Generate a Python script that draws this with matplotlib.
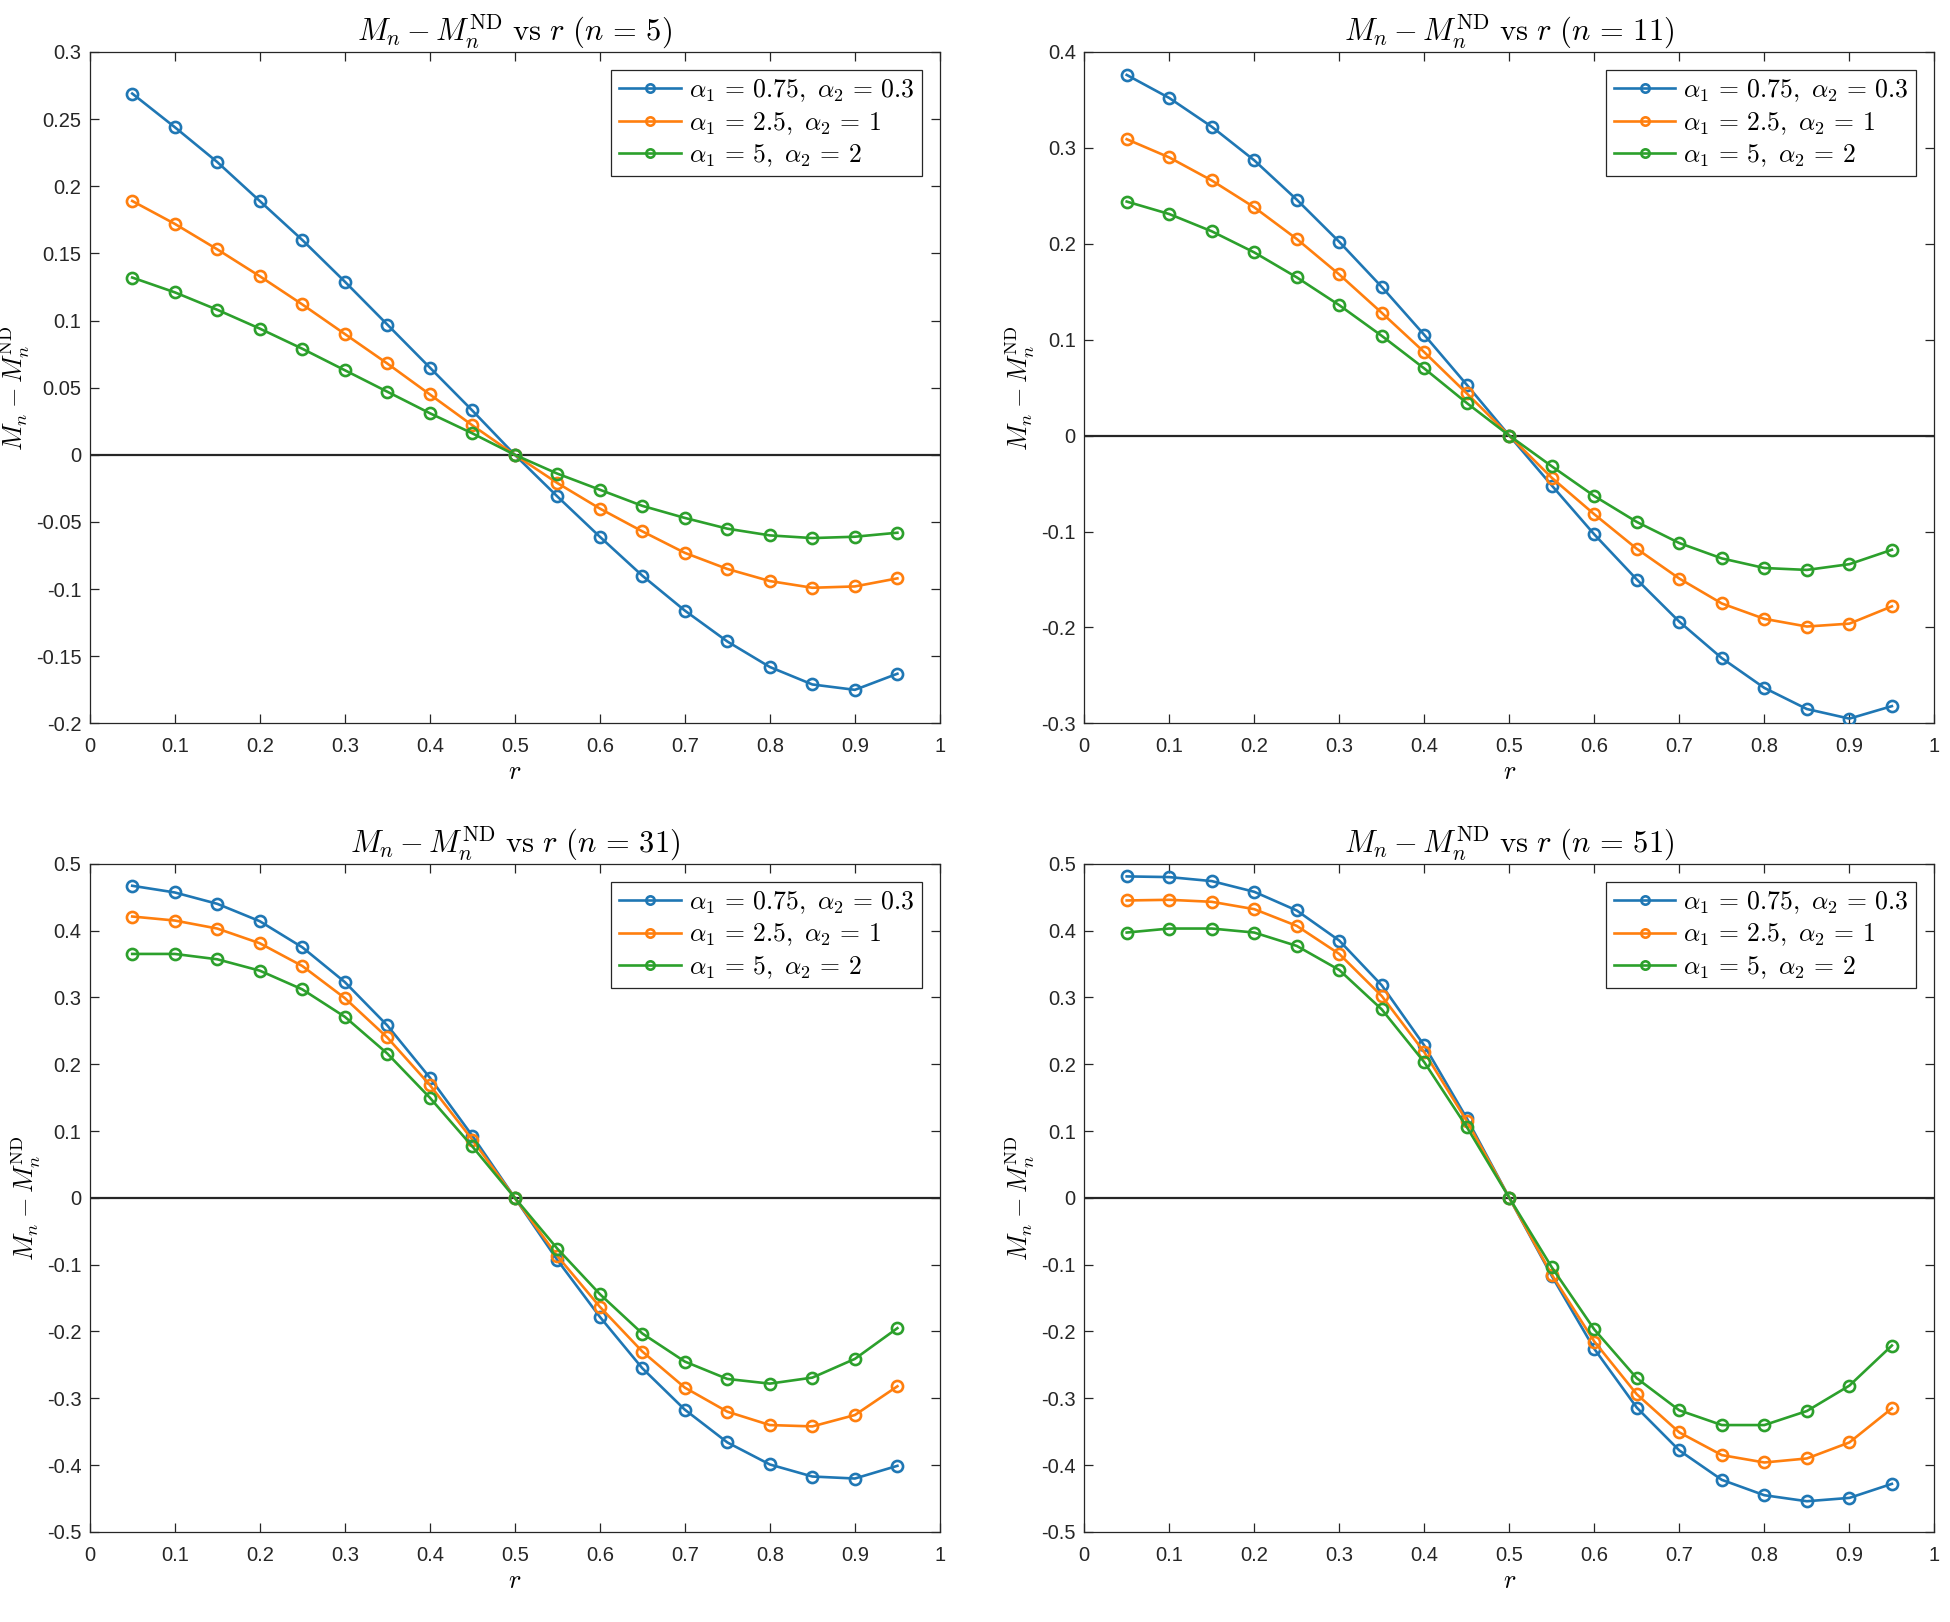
import numpy as np
import matplotlib
matplotlib.use("Agg")
import matplotlib.pyplot as plt
from matplotlib.ticker import FuncFormatter, MultipleLocator

plt.rcParams['mathtext.fontset'] = 'cm'
plt.rcParams['font.family'] = ['Liberation Sans', 'DejaVu Sans']
plt.rcParams['axes.unicode_minus'] = False

r = [0.05, 0.1, 0.15, 0.2, 0.25, 0.3, 0.35, 0.4, 0.45, 0.5,
     0.55, 0.6, 0.65, 0.7, 0.75, 0.8, 0.85, 0.9, 0.95]

labels = [r'$\alpha_1 \,=\, 0.75,\ \alpha_2 \,=\, 0.3$',
          r'$\alpha_1 \,=\, 2.5,\ \alpha_2 \,=\, 1$',
          r'$\alpha_1 \,=\, 5,\ \alpha_2 \,=\, 2$']
colors = ['#1f77b4', '#ff7f0e', '#2ca02c']

# n = 5
n5_a = [0.269, 0.244, 0.218, 0.189, 0.160, 0.129, 0.097, 0.065, 0.033, 0.0,
        -0.031, -0.061, -0.090, -0.116, -0.139, -0.158, -0.171, -0.175, -0.163]
n5_b = [0.189, 0.172, 0.153, 0.133, 0.112, 0.090, 0.068, 0.045, 0.022, 0.0,
        -0.021, -0.040, -0.057, -0.073, -0.085, -0.094, -0.099, -0.098, -0.092]
n5_c = [0.132, 0.121, 0.108, 0.094, 0.079, 0.063, 0.047, 0.031, 0.016, 0.0,
        -0.014, -0.026, -0.038, -0.047, -0.055, -0.060, -0.062, -0.061, -0.058]

# n = 11
n11_a = [0.376, 0.352, 0.322, 0.287, 0.246, 0.202, 0.155, 0.105, 0.053, 0.0,
         -0.052, -0.103, -0.150, -0.194, -0.232, -0.263, -0.285, -0.295, -0.282]
n11_b = [0.309, 0.290, 0.266, 0.238, 0.205, 0.168, 0.128, 0.087, 0.044, 0.0,
         -0.044, -0.082, -0.118, -0.149, -0.175, -0.191, -0.199, -0.196, -0.178]
n11_c = [0.244, 0.231, 0.213, 0.191, 0.165, 0.136, 0.104, 0.070, 0.034, 0.0,
         -0.032, -0.063, -0.090, -0.112, -0.128, -0.138, -0.140, -0.134, -0.119]

# n = 31
n31_a = [0.467, 0.457, 0.440, 0.414, 0.375, 0.323, 0.258, 0.180, 0.093, 0.0,
         -0.093, -0.178, -0.255, -0.317, -0.366, -0.399, -0.417, -0.420, -0.401]
n31_b = [0.421, 0.415, 0.403, 0.381, 0.347, 0.299, 0.240, 0.169, 0.087, 0.0,
         -0.087, -0.163, -0.230, -0.284, -0.320, -0.340, -0.342, -0.325, -0.282]
n31_c = [0.365, 0.365, 0.357, 0.340, 0.312, 0.271, 0.216, 0.150, 0.077, 0.0,
         -0.076, -0.144, -0.203, -0.245, -0.271, -0.278, -0.269, -0.241, -0.195]

# n = 51
n51_a = [0.481, 0.480, 0.474, 0.458, 0.430, 0.385, 0.318, 0.228, 0.119, 0.0,
         -0.117, -0.226, -0.314, -0.378, -0.422, -0.445, -0.454, -0.449, -0.428]
n51_b = [0.445, 0.446, 0.443, 0.432, 0.407, 0.365, 0.302, 0.218, 0.115, 0.0,
         -0.115, -0.215, -0.294, -0.351, -0.385, -0.396, -0.390, -0.366, -0.315]
n51_c = [0.397, 0.403, 0.403, 0.397, 0.377, 0.341, 0.282, 0.203, 0.106, 0.0,
         -0.104, -0.197, -0.270, -0.318, -0.340, -0.340, -0.319, -0.281, -0.221]

panels = [
    (5, [n5_a, n5_b, n5_c], (-0.2, 0.3), 0.05),
    (11, [n11_a, n11_b, n11_c], (-0.3, 0.4), 0.1),
    (31, [n31_a, n31_b, n31_c], (-0.5, 0.5), 0.1),
    (51, [n51_a, n51_b, n51_c], (-0.5, 0.5), 0.1),
]

positions = [
    [0.046, 0.554, 0.436, 0.414],
    [0.556, 0.554, 0.436, 0.414],
    [0.046, 0.0555, 0.436, 0.412],
    [0.556, 0.0555, 0.436, 0.412],
]

fig = plt.figure(figsize=(19.5, 16.22), dpi=100)

fmt = FuncFormatter(lambda v, p: '%g' % round(v, 4))

for (n, series, ylim, ystep), pos in zip(panels, positions):
    ax = fig.add_axes(pos)
    ax.axhline(0, color='#262626', lw=1.6, zorder=1)
    for ys, c, lab in zip(series, colors, labels):
        ax.plot(r, ys, '-o', color=c, lw=1.9, markersize=8,
                markerfacecolor='none', markeredgewidth=1.9, label=lab, zorder=3)
    ax.set_xlim(0, 1)
    ax.set_ylim(*ylim)
    ax.xaxis.set_major_locator(MultipleLocator(0.1))
    ax.yaxis.set_major_locator(MultipleLocator(ystep))
    ax.xaxis.set_major_formatter(fmt)
    ax.yaxis.set_major_formatter(fmt)
    ax.tick_params(direction='in', top=True, right=True, labelsize=14.5,
                   length=6.5, width=0.9, colors='#262626')
    ax.tick_params(axis='x', pad=10)
    ax.tick_params(axis='y', pad=6)
    for s in ax.spines.values():
        s.set_linewidth(0.9)
        s.set_color('#262626')
    ax.set_title(r'$M_n - M_n^{\mathrm{ND}}\ \mathrm{vs}\ r\ (n \,=\, %d)$' % n,
                 fontsize=22, pad=8)
    ax.set_xlabel(r'$r$', fontsize=19, labelpad=3)
    ax.set_ylabel(r'$M_n - M_n^{\mathrm{ND}}$', fontsize=19, labelpad=3)
    leg = ax.legend(loc='upper right', fontsize=18.5, fancybox=False,
                    framealpha=1, edgecolor='#262626', borderpad=0.3,
                    handlelength=2.4, handletextpad=0.3, labelspacing=0.22,
                    borderaxespad=0.7)
    leg.get_frame().set_linewidth(0.9)
    for h in leg.legend_handles:
        h.set_markersize(6)

fig.savefig('out.png', dpi=100)
